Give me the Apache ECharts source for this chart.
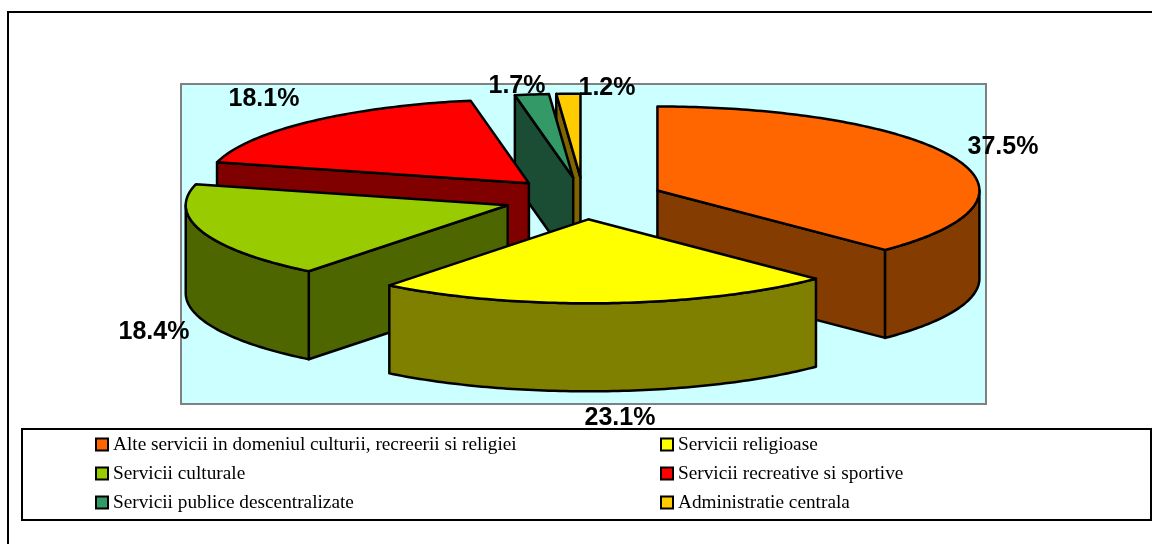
<!DOCTYPE html>
<html>
<head>
<meta charset="utf-8">
<style>
  html, body { margin: 0; padding: 0; background: #fff; }
  #chart { width: 1152px; height: 544px; }
</style>
</head>
<body>
<div id="chart"></div>
<script src="https://cdn.jsdelivr.net/npm/echarts@6/dist/echarts.min.js"></script>
<script>
const categories = [
  'Alte servicii in domeniul culturii, recreerii si religiei',
  'Servicii religioase',
  'Servicii culturale',
  'Servicii recreative si sportive',
  'Servicii publice descentralizate',
  'Administratie centrala'
];
const shares = [37.5, 23.1, 18.4, 18.1, 1.7, 1.2];

const topColors = ['#ff6600', '#ffff00', '#99cc00', '#ff0000', '#339966', '#ffcc00'];
const sideColors = ['#843c00', '#808000', '#4d6600', '#800000', '#1a4d33', '#806600'];
// back to front
const drawOrder = [5, 4, 3, 2, 0, 1];
// excel placed these by hand, they do not follow the slices
const labelPos = [[1003, 147], [620, 418], [154, 332], [264, 99], [517, 86], [607, 88]];

const pie = { cx: 583.5, cy: 198.5, rx: 322, ry: 84, depth: 88, explode: 80 };
const total = shares.reduce((a, b) => a + b, 0);

function angleOf(v) {
  return echarts.number.linearMap(v, [0, total], [0, Math.PI * 2]);
}

function renderSlice(i) {
  const start = angleOf(shares.slice(0, i).reduce((a, b) => a + b, 0));
  const end = start + angleOf(shares[i]);
  const mid = (start + end) / 2;
  const ox = pie.cx + Math.sin(mid) * pie.explode;
  const oy = pie.cy - Math.cos(mid) * pie.explode * pie.ry / pie.rx;
  const pt = (a) => [ox + Math.sin(a) * pie.rx, oy - Math.cos(a) * pie.ry];
  const arc = (a0, a1) => {
    const pts = [];
    const n = Math.max(2, Math.ceil((a1 - a0) * 60));
    for (let k = 0; k <= n; k++) pts.push(pt(a0 + (a1 - a0) * k / n));
    return pts;
  };
  const drop = (pts) => pts.map((p) => [p[0], p[1] + pie.depth]);
  const outline = { stroke: '#000', lineWidth: 2.5, lineJoin: 'round' };
  const poly = (points, fill) => ({
    type: 'polygon',
    shape: { points: points },
    style: Object.assign({ fill: fill }, outline)
  });

  const children = [];
  // radial walls, only the ones turned to the viewer
  if (Math.sin(start) < -0.001) {
    const edge = [[ox, oy], pt(start)];
    children.push(poly(edge.concat(drop(edge).reverse()), sideColors[i]));
  }
  if (Math.sin(end) > 0.001) {
    const edge = [[ox, oy], pt(end)];
    children.push(poly(edge.concat(drop(edge).reverse()), sideColors[i]));
  }
  // outer rim, front half only
  const rimFrom = Math.max(start, Math.PI / 2);
  const rimTo = Math.min(end, Math.PI * 1.5);
  if (rimTo > rimFrom) {
    const rim = arc(rimFrom, rimTo);
    children.push(poly(rim.concat(drop(rim).reverse()), sideColors[i]));
  }
  children.push(poly([[ox, oy]].concat(arc(start, end)), topColors[i]));
  children.push({
    type: 'text',
    z2: 100,
    style: {
      x: labelPos[i][0],
      y: labelPos[i][1],
      text: shares[i].toFixed(1) + '%',
      fill: '#000',
      font: 'bold 25px "Liberation Sans"',
      align: 'center',
      verticalAlign: 'middle'
    }
  });
  return { type: 'group', children: children };
}

// legend reads left to right, so each column takes every second category
function legendColumn(left, offset) {
  return {
    left: left,
    top: 435,
    orient: 'vertical',
    padding: 0,
    itemWidth: 12,
    itemHeight: 12,
    itemGap: 10,
    icon: 'rect',
    selectedMode: false,
    textStyle: {
      fontFamily: 'Liberation Serif',
      fontSize: 19.3,
      color: '#000',
      padding: 0
    },
    data: categories
      .map((name, i) => ({
        name: name,
        itemStyle: { color: topColors[i], borderColor: '#000', borderWidth: 2 }
      }))
      .filter((item, i) => i % 2 === offset)
  };
}

const chart = echarts.init(document.getElementById('chart'), null, { renderer: 'canvas' });

chart.setOption({
  animation: false,
  backgroundColor: '#fff',
  graphic: {
    elements: [
      // outer frame runs off the right and bottom of the picture
      { type: 'rect', shape: { x: 8, y: 12, width: 1200, height: 600 },
        style: { fill: '#fff', stroke: '#000', lineWidth: 2 } },
      { type: 'rect', shape: { x: 181, y: 84, width: 805, height: 320 },
        style: { fill: '#ccffff', stroke: '#808080', lineWidth: 2 } },
      { type: 'rect', shape: { x: 22, y: 429, width: 1129, height: 91 },
        style: { fill: '#fff', stroke: '#000', lineWidth: 2 } }
    ]
  },
  legend: [legendColumn(95, 0), legendColumn(660, 1)],
  series: drawOrder.map((i, rank) => ({
    type: 'custom',
    name: categories[i],
    coordinateSystem: 'none',
    z: 2 + rank,
    silent: true,
    data: [shares[i]],
    renderItem: () => renderSlice(i)
  }))
});
</script>
</body>
</html>
